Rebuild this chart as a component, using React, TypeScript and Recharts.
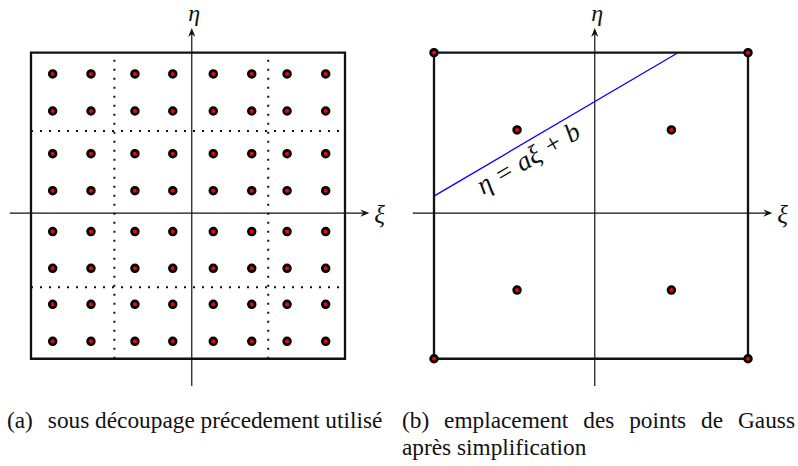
import React from 'react';
import { ScatterChart, Scatter, XAxis, YAxis, ReferenceLine, ReferenceArea } from 'recharts';

// ---- data (coordinates in the reference element, square = [-1, 1] x [-1, 1]) ----
const squareBounds = [-1, 1];
const xiAxisRange = [-1.135, 1.155];
const etaAxisRange = [-1.178, 1.161];
const etaAxisAtXi = 0.024; // ξ position of the η axis
const xiAxisAtEta = -0.048; // η position of the ξ axis

// (a) 8 x 8 Gauss points
const leftCols = [-0.862, -0.618, -0.338, -0.097, 0.161, 0.406, 0.631, 0.877];
const leftRows = [0.861, 0.619, 0.34, 0.098, -0.169, -0.409, -0.644, -0.886];
const leftDivXi = [-0.469, 0.511];
const leftDivEta = [0.488, -0.533];

// (b) points after simplification
const rightInnerXi = [-0.471, 0.512];
const rightInnerEta = [0.495, -0.551];
const lineStart = { xi: -1, eta: 0.063 };
const lineEnd = { xi: 0.554, eta: 1 };
const lineLabel = 'η = aξ + b';

const xiLabel = 'ξ';
const etaLabel = 'η';
const captionA1 = '(a)';
const captionA2 = 'sous découpage précedement utilisé';
const captionB1 = '(b) emplacement des points de Gauss';
const captionB2 = 'après simplification';

// ---- derived tables ----
const leftPoints = leftRows.flatMap((eta) => leftCols.map((xi) => ({ xi, eta })));
const rightPoints = [
  ...squareBounds.flatMap((eta) => squareBounds.map((xi) => ({ xi, eta }))),
  ...rightInnerEta.flatMap((eta) => rightInnerXi.map((xi) => ({ xi, eta }))),
];

// ---- layout ----
const CW = 395;
const CH = 466;
const margin = { left: 7.45, right: CW - 376.4, top: 22.1, bottom: 69 };
const xDomain = [-1.15, 1.2];
const yDomain = [-1.25, 1.2];
const serifFont =
  '"Liberation Serif", Tinos, "Times New Roman", Times, "Nimbus Roman", "Noto Serif", "DejaVu Serif", serif';

const Dot = (p: any) => (
  <circle cx={p.cx} cy={p.cy} r={3.4} fill="#ff0000" stroke="#000" strokeWidth={2.7} />
);

const axisShape = (label: string, kind: 'x' | 'y') => (p: any) => {
  const { x1, y1, x2, y2 } = p;
  const ang = Math.atan2(y2 - y1, x2 - x1);
  const c = Math.cos(ang);
  const s = Math.sin(ang);
  const pt = (a: number, b: number) => `${x2 - a * c - b * s},${y2 - a * s + b * c}`;
  const L = 9;
  const hw = 3.6;
  const notch = 6;
  return (
    <g>
      <line x1={x1} y1={y1} x2={x2 - notch * c} y2={y2 - notch * s} stroke="#111" strokeWidth={1.2} />
      <polygon points={`${pt(0, 0)} ${pt(L, hw)} ${pt(notch, 0)} ${pt(L, -hw)}`} fill="#111" />
      {kind === 'x' ? (
        <text x={x2 + 5} y={y2 + 9.5} fontSize={25} fontStyle="italic" fontFamily={serifFont} fill="#111">
          {label}
        </text>
      ) : (
        <text x={x2 + 2.5} y={y2 - 6.6} fontSize={24} fontStyle="italic" fontFamily={serifFont} fill="#111" textAnchor="middle">
          {label}
        </text>
      )}
    </g>
  );
};

const labelledLine = (p: any) => {
  const { x1, y1, x2, y2 } = p;
  const ang = Math.atan2(y2 - y1, x2 - x1);
  const c = Math.cos(ang);
  const s = Math.sin(ang);
  const f = 0.355;
  const off = 24;
  const mx = x1 + (x2 - x1) * f - s * off;
  const my = y1 + (y2 - y1) * f + c * off;
  const deg = (ang * 180) / Math.PI;
  return (
    <g>
      <line x1={x1} y1={y1} x2={x2} y2={y2} stroke="#0000ff" strokeWidth={1.3} />
      <text
        x={mx}
        y={my}
        fontSize={27}
        fontStyle="italic"
        fontFamily={serifFont}
        fill="#111"
        textAnchor="middle"
        transform={`rotate(${deg}, ${mx}, ${my})`}
      >
        {lineLabel}
      </text>
    </g>
  );
};

function renderCommon() {
  return [
    <XAxis key="xa" type="number" dataKey="xi" domain={xDomain} allowDataOverflow hide />,
    <YAxis key="ya" type="number" dataKey="eta" domain={yDomain} allowDataOverflow hide />,
  ];
}

function renderAxes() {
  return [
    <ReferenceLine
      key="xiaxis"
      segment={[
        { x: xiAxisRange[0], y: xiAxisAtEta },
        { x: xiAxisRange[1], y: xiAxisAtEta },
      ]}
      ifOverflow="visible"
      shape={axisShape(xiLabel, 'x')}
    />,
    <ReferenceLine
      key="etaaxis"
      segment={[
        { x: etaAxisAtXi, y: etaAxisRange[0] },
        { x: etaAxisAtXi, y: etaAxisRange[1] },
      ]}
      ifOverflow="visible"
      shape={axisShape(etaLabel, 'y')}
    />,
  ];
}

function renderSquare() {
  return (
    <ReferenceArea
      x1={squareBounds[0]}
      x2={squareBounds[1]}
      y1={squareBounds[0]}
      y2={squareBounds[1]}
      ifOverflow="visible"
      fill="none"
      fillOpacity={0}
      stroke="#111"
      strokeWidth={2.3}
    />
  );
}

const captionStyle: React.CSSProperties = {
  position: 'absolute',
  fontFamily: serifFont,
  fontSize: 23.3,
  lineHeight: '23.3px',
  color: '#111',
  whiteSpace: 'nowrap',
};

export default function App() {
  return (
    <div
      style={{
        position: 'absolute',
        left: 0,
        top: 0,
        width: 798,
        height: 466,
        overflow: 'hidden',
        background: '#fff',
      }}
    >
      <div style={{ position: 'absolute', left: 0, top: 0 }}>
        <ScatterChart width={CW} height={CH} margin={margin}>
          {renderCommon()}
          {leftDivXi.map((xi, i) => (
            <ReferenceLine
              key={'dv' + i}
              segment={[
                { x: xi, y: squareBounds[0] },
                { x: xi, y: squareBounds[1] },
              ]}
              ifOverflow="visible"
              stroke="#111"
              strokeWidth={2}
              strokeDasharray="2 7"
            />
          ))}
          {leftDivEta.map((eta, i) => (
            <ReferenceLine
              key={'dh' + i}
              segment={[
                { x: squareBounds[0], y: eta },
                { x: squareBounds[1], y: eta },
              ]}
              ifOverflow="visible"
              stroke="#111"
              strokeWidth={2}
              strokeDasharray="2 7"
            />
          ))}
          {renderAxes()}
          {renderSquare()}
          <Scatter data={leftPoints} shape={Dot} isAnimationActive={false} />
        </ScatterChart>
      </div>
      <div style={{ position: 'absolute', left: 403.3, top: 0 }}>
        <ScatterChart width={CW} height={CH} margin={margin}>
          {renderCommon()}
          {renderAxes()}
          {renderSquare()}
          <ReferenceLine
            segment={[
              { x: lineStart.xi, y: lineStart.eta },
              { x: lineEnd.xi, y: lineEnd.eta },
            ]}
            ifOverflow="visible"
            shape={labelledLine}
          />
          <Scatter data={rightPoints} shape={Dot} isAnimationActive={false} />
        </ScatterChart>
      </div>
      <div style={{ ...captionStyle, left: 7, top: 408.5 }}>
        <span>{captionA1}</span>
        <span style={{ marginLeft: 15 }}>{captionA2}</span>
      </div>
      <div
        style={{
          ...captionStyle,
          left: 402,
          top: 408.5,
          width: 393,
          whiteSpace: 'normal',
          textAlign: 'justify',
          textAlignLast: 'justify',
        }}
      >
        {captionB1}
      </div>
      <div style={{ ...captionStyle, left: 402, top: 435.5 }}>{captionB2}</div>
    </div>
  );
}
